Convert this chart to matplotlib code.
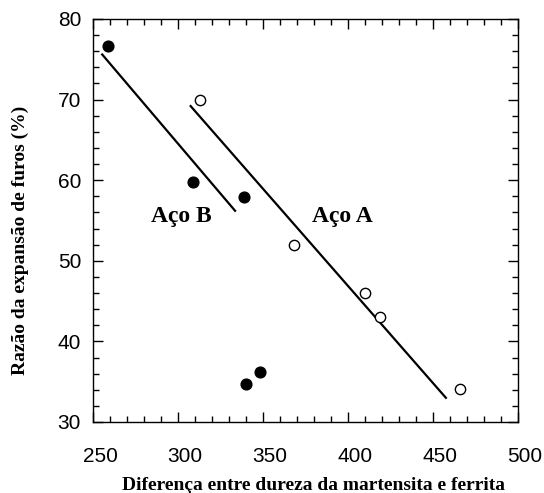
import matplotlib
matplotlib.use("Agg")
import matplotlib.pyplot as plt
from matplotlib.ticker import MultipleLocator
from matplotlib.transforms import ScaledTranslation

# Aço B (filled)
b_x = [259, 309, 339, 340, 348]
b_y = [76.7, 59.8, 57.9, 34.7, 36.2]
# Aço A (open)
a_x = [313, 368, 410, 419, 466]
a_y = [70.0, 52.0, 46.0, 43.0, 34.1]
# regression lines (endpoints)
lineB_x = [255, 334]
lineB_y = [75.7, 56.1]
lineA_x = [307, 458]
lineA_y = [69.3, 32.9]

W, H = 544, 493
fig = plt.figure(figsize=(W/100, H/100), dpi=100)
ax = fig.add_axes([93/W, 1-422/H, (518-93)/W, (422-19)/H])

ax.plot(lineB_x, lineB_y, color='black', lw=1.6, solid_capstyle='butt')
ax.plot(lineA_x, lineA_y, color='black', lw=1.6, solid_capstyle='butt')
ax.scatter(b_x, b_y, s=60, color='black', zorder=3)
ax.scatter(a_x, a_y, s=55, facecolor='white', edgecolor='black', linewidth=1.0, zorder=3)

ax.text(301.8, 54.8, 'Aço B', fontsize=17, fontweight='bold', family='Liberation Serif',
        ha='center', va='baseline')
ax.text(396.8, 54.8, 'Aço A', fontsize=17, fontweight='bold', family='Liberation Serif',
        ha='center', va='baseline')

ax.set_xlim(250, 500)
ax.set_ylim(30, 80)
ax.xaxis.set_major_locator(MultipleLocator(50))
ax.xaxis.set_minor_locator(MultipleLocator(10))
ax.yaxis.set_major_locator(MultipleLocator(10))
ax.yaxis.set_minor_locator(MultipleLocator(2))
ax.tick_params(which='both', direction='in', top=True, right=True, width=1)
ax.tick_params(which='major', length=7, labelsize=15)
ax.tick_params(which='minor', length=4)
ax.tick_params(axis='x', which='major', pad=18)
ax.tick_params(axis='y', which='major', pad=8.6)
for lab in ax.get_xticklabels() + ax.get_yticklabels():
    lab.set_family('Liberation Sans')
shift = ScaledTranslation(7/100, 0, fig.dpi_scale_trans)
for lab in ax.get_xticklabels():
    lab.set_transform(lab.get_transform() + shift)
for sp in ax.spines.values():
    sp.set_linewidth(1.0)

fig.text(313/W, 1-490/H, 'Diferença entre dureza da martensita e ferrita',
         family='Liberation Serif', fontweight='bold', fontsize=14,
         ha='center', va='baseline')
fig.text(20/W, 1-240/H, 'Razão da expansão de furos (%)',
         family='Liberation Serif', fontweight='bold', fontsize=14,
         ha='center', va='center', rotation=90)

fig.savefig('out.png', dpi=100)
